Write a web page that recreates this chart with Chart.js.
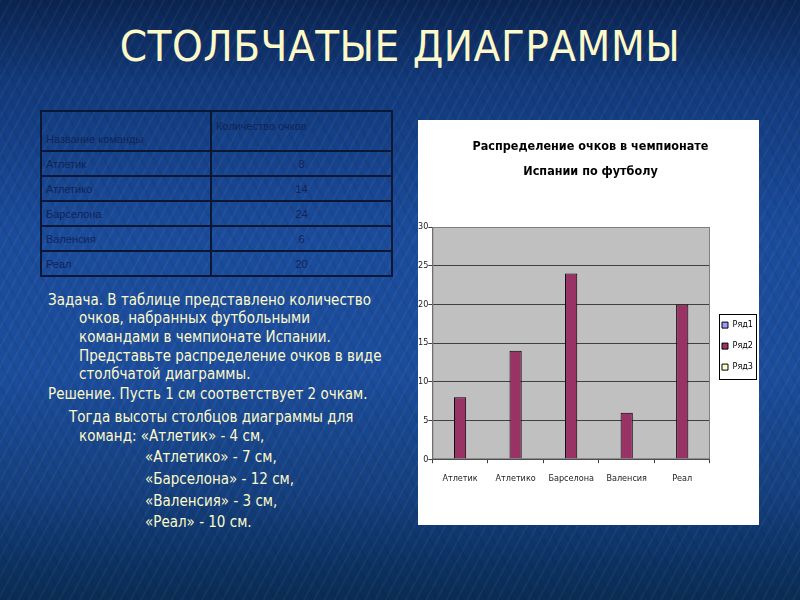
<!DOCTYPE html>
<html>
<head>
<meta charset="utf-8">
<script src="https://cdn.jsdelivr.net/npm/chart.js@4.4.0/dist/chart.umd.min.js"></script>
<style>
  html, body { margin: 0; padding: 0; }
  body {
    width: 800px; height: 600px; overflow: hidden; position: relative;
    background:
      repeating-linear-gradient(118deg, rgba(255,255,255,0.035) 0 2px, rgba(0,0,0,0) 2px 9px),
      repeating-linear-gradient(62deg, rgba(0,0,0,0.05) 0 3px, rgba(0,0,0,0) 3px 11px),
      linear-gradient(to bottom, #0b2450 0%, #123a7c 14%, #1b4c9c 40%, #1c4d9c 62%, #15407f 82%, #0c3262 94%, #0a2c55 100%);
    font-family: "DejaVu Sans Condensed", "DejaVu Sans", sans-serif;
  }
  .title {
    position: absolute; left: 0; width: 800px; top: 21px; text-align: center;
    color: #fdf9c9; font-size: 43.5px; letter-spacing: 0.5px;
  }
  table.data {
    position: absolute; left: 40px; top: 110px; border-collapse: collapse;
    font-family: "Liberation Sans", Arial, sans-serif; font-size: 11px; color: #0f2458;
  }
  table.data td { border: 2px solid #0a1836; padding: 0 4px; }
  table.data td.num { text-align: center; }
  .line {
    position: absolute; color: #fdf9c9; font-size: 15px; white-space: nowrap; line-height: 18px;
  }
  #chartBox {
    position: absolute; left: 418px; top: 120px; width: 341px; height: 405px; background: #ffffff;
  }
</style>
</head>
<body>
<div class="title">СТОЛБЧАТЫЕ ДИАГРАММЫ</div>
<table class="data" id="pointsTable"></table>

<div class="line" style="left:48px; top:291px">Задача. В таблице представлено количество</div>
<div class="line" style="left:79px; top:309px">очков, набранных футбольными</div>
<div class="line" style="left:79px; top:328px">командами в чемпионате Испании.</div>
<div class="line" style="left:79px; top:347px">Представьте распределение очков в виде</div>
<div class="line" style="left:79px; top:365px">столбчатой диаграммы.</div>
<div class="line" style="left:48px; top:385px">Решение. Пусть 1 см соответствует 2 очкам.</div>
<div class="line" style="left:69px; top:408px">Тогда высоты столбцов диаграммы для</div>
<div class="line" style="left:79px; top:427px">команд: «Атлетик» - 4 см,</div>
<div class="line" style="left:145px; top:448px">«Атлетико» - 7 см,</div>
<div class="line" style="left:145px; top:470px">«Барселона» - 12 см,</div>
<div class="line" style="left:145px; top:492px">«Валенсия» - 3 см,</div>
<div class="line" style="left:145px; top:513px">«Реал» - 10 см.</div>

<div id="chartBox"><canvas id="pointsChart"></canvas></div>

<script>
// values
const teams = ["Атлетик", "Атлетико", "Барселона", "Валенсия", "Реал"];
const tableNames = [" Атлетик", "Атлетико", "Барселона", "Валенсия", "Реал"];
const points = [8, 14, 24, 6, 20];
const seriesNames = ["Ряд1", "Ряд2", "Ряд3"];
const seriesColors = ["#9999ff", "#993366", "#ffffcc"];
const tableHeader = ["Название команды", "Количество очков"];
const chartTitle = ["Распределение очков в чемпионате", "Испании по футболу"];

// build the table on the left
function buildTable() {
  const table = document.getElementById("pointsTable");
  let html = `<tr style="height:40px">
      <td style="width:160px; vertical-align:bottom; padding-bottom:5px">${tableHeader[0]}</td>
      <td style="width:171px; vertical-align:top; padding-top:8px">${tableHeader[1]}</td></tr>`;
  tableNames.forEach((name, i) => {
    html += `<tr style="height:25px"><td>${name}</td><td class="num">${points[i]}</td></tr>`;
  });
  table.innerHTML = html;
}

// gray plot area, plot border and the legend frame, Excel style
const excelLook = {
  id: "excelLook",
  beforeDraw(chart) {
    const { ctx, chartArea: a } = chart;
    ctx.save();
    ctx.fillStyle = "#c0c0c0";
    ctx.fillRect(a.left, a.top, a.right - a.left, a.bottom - a.top);
    ctx.restore();
  },
  afterDraw(chart) {
    const { ctx, chartArea: a } = chart;
    ctx.save();
    ctx.strokeStyle = "#808080";
    ctx.lineWidth = 1;
    ctx.strokeRect(a.left + 0.5, a.top + 0.5, a.right - a.left - 1, a.bottom - a.top - 1);

    const boxes = chart.legend.legendHitBoxes;
    if (boxes && boxes.length) {
      const l = Math.min(...boxes.map((b) => b.left)) - 3;
      const t = Math.min(...boxes.map((b) => b.top)) - 7;
      const r = Math.max(...boxes.map((b) => b.left + b.width)) + 3;
      const bt = Math.max(...boxes.map((b) => b.top + b.height)) + 7;
      ctx.strokeStyle = "#000000";
      ctx.strokeRect(Math.round(l) + 0.5, Math.round(t) + 0.5, Math.round(r - l), Math.round(bt - t));
    }
    ctx.restore();
  },
};

function createChart() {
  const ctx = document.getElementById("pointsChart").getContext("2d");
  const datasets = seriesNames.map((name, i) => ({
    label: name,
    data: i === 1 ? points : teams.map(() => null),
    backgroundColor: seriesColors[i],
    borderColor: "#000000",
    borderWidth: 1,
    categoryPercentage: 0.66,
    barPercentage: 1.0,
  }));

  new Chart(ctx, {
    type: "bar",
    data: { labels: teams, datasets: datasets },
    plugins: [excelLook],
    options: {
      responsive: true,
      maintainAspectRatio: false,
      animation: false,
      layout: { padding: { left: 0, right: -4, top: 0, bottom: 31 } },
      scales: {
        x: {
          grid: { drawOnChartArea: false, drawTicks: true, tickLength: 4, color: "#404040" },
          border: { color: "#404040" },
          ticks: {
            color: "#222222",
            padding: 10,
            maxRotation: 0,
            autoSkip: false,
            font: { family: "DejaVu Sans Condensed", size: 9 },
          },
        },
        y: {
          min: 0,
          max: 30,
          grid: { color: "#404040", tickLength: 4 },
          border: { color: "#404040" },
          ticks: {
            stepSize: 5,
            color: "#222222",
            padding: 0,
            font: { family: "DejaVu Sans Condensed", size: 9 },
          },
        },
      },
      plugins: {
        title: {
          display: true,
          text: chartTitle,
          color: "#000000",
          font: { family: "DejaVu Sans Condensed", size: 12.5, weight: "bold", lineHeight: 2 },
          padding: { top: 14, bottom: 43 },
        },
        legend: {
          position: "right",
          title: { display: true, text: "", font: { size: 1 }, padding: { top: 38, bottom: 39 } },
          labels: {
            boxWidth: 6,
            boxHeight: 6,
            padding: 12,
            color: "#000000",
            font: { family: "DejaVu Sans Condensed", size: 9 },
          },
        },
        tooltip: { enabled: false },
      },
    },
  });
}

buildTable();
createChart();
</script>
</body>
</html>
